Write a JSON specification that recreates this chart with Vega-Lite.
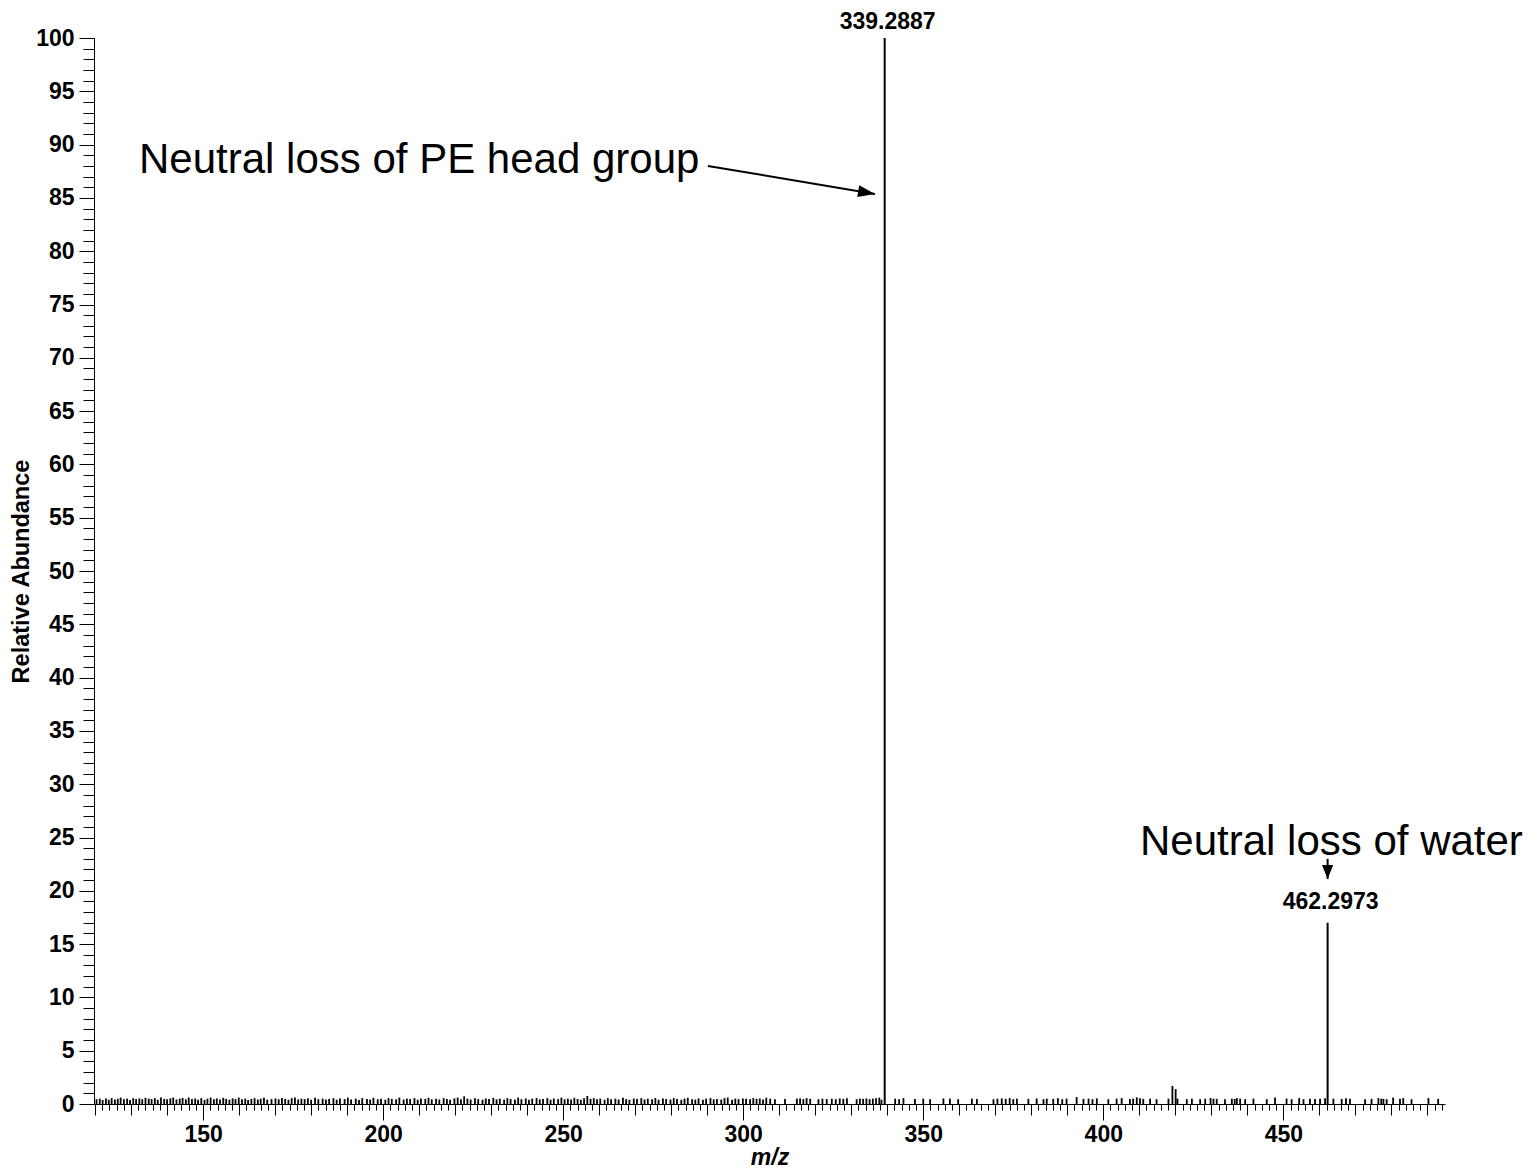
{
  "$schema": "https://vega.github.io/schema/vega-lite/v6.json",
  "width": 1351,
  "height": 1066,
  "autosize": {"type": "none"},
  "padding": {"left": 94, "top": 38, "right": 92, "bottom": 66},
  "background": "white",
  "config": {
    "view": {"stroke": null},
    "axis": {
      "grid": false,
      "labelFont": "Liberation Sans",
      "titleFont": "Liberation Sans",
      "labelFontWeight": "bold",
      "titleFontWeight": "bold",
      "labelColor": "black",
      "titleColor": "black",
      "domainColor": "black",
      "tickColor": "black",
      "labelFontSize": 23,
      "titleFontSize": 22
    }
  },
  "datasets": {
    "peaks": [
      {"mz":120.4,"ab":0.45},{"mz":121.3,"ab":0.5},{"mz":122.1,"ab":0.38},{"mz":123.0,"ab":0.52},{"mz":123.8,"ab":0.4},{"mz":124.6,"ab":0.55},{"mz":125.5,"ab":0.42},{"mz":126.3,"ab":0.48},{"mz":127.1,"ab":0.6},{"mz":128.0,"ab":0.45},
      {"mz":128.9,"ab":0.5},{"mz":129.7,"ab":0.38},{"mz":130.6,"ab":0.55},{"mz":131.4,"ab":0.47},{"mz":132.3,"ab":0.52},{"mz":133.1,"ab":0.44},{"mz":134.0,"ab":0.58},{"mz":134.9,"ab":0.5},{"mz":135.7,"ab":0.46},{"mz":136.6,"ab":0.55},
      {"mz":137.4,"ab":0.4},{"mz":138.3,"ab":0.62},{"mz":139.2,"ab":0.48},{"mz":140.0,"ab":0.45},{"mz":140.9,"ab":0.53},{"mz":141.7,"ab":0.6},{"mz":142.6,"ab":0.42},{"mz":143.5,"ab":0.5},{"mz":144.3,"ab":0.56},{"mz":145.2,"ab":0.44},
      {"mz":146.0,"ab":0.61},{"mz":146.9,"ab":0.47},{"mz":147.8,"ab":0.52},{"mz":148.6,"ab":0.4},{"mz":149.5,"ab":0.55},{"mz":150.4,"ab":0.38},{"mz":151.2,"ab":0.5},{"mz":152.1,"ab":0.6},{"mz":153.0,"ab":0.45},{"mz":153.8,"ab":0.52},
      {"mz":154.7,"ab":0.42},{"mz":155.6,"ab":0.58},{"mz":156.4,"ab":0.48},{"mz":157.3,"ab":0.4},{"mz":158.2,"ab":0.53},{"mz":159.0,"ab":0.46},{"mz":159.9,"ab":0.6},{"mz":160.8,"ab":0.44},{"mz":161.7,"ab":0.5},{"mz":162.5,"ab":0.38},
      {"mz":163.4,"ab":0.47},{"mz":164.3,"ab":0.55},{"mz":165.2,"ab":0.42},{"mz":166.0,"ab":0.5},{"mz":166.9,"ab":0.58},{"mz":167.8,"ab":0.4},{"mz":169.0,"ab":0.46},{"mz":170.1,"ab":0.52},{"mz":171.0,"ab":0.44},{"mz":171.9,"ab":0.57},
      {"mz":172.8,"ab":0.48},{"mz":173.7,"ab":0.4},{"mz":174.6,"ab":0.55},{"mz":175.5,"ab":0.62},{"mz":176.4,"ab":0.43},{"mz":177.3,"ab":0.5},{"mz":178.2,"ab":0.46},{"mz":179.1,"ab":0.53},{"mz":180.0,"ab":0.4},{"mz":181.1,"ab":0.58},
      {"mz":182.0,"ab":0.45},{"mz":183.2,"ab":0.5},{"mz":184.1,"ab":0.42},{"mz":185.0,"ab":0.48},{"mz":186.2,"ab":0.55},{"mz":187.1,"ab":0.4},{"mz":188.0,"ab":0.52},{"mz":189.3,"ab":0.46},{"mz":190.2,"ab":0.6},{"mz":191.1,"ab":0.43},
      {"mz":192.4,"ab":0.5},{"mz":193.3,"ab":0.38},{"mz":194.2,"ab":0.55},{"mz":195.5,"ab":0.47},{"mz":196.4,"ab":0.42},{"mz":197.3,"ab":0.58},{"mz":198.5,"ab":0.45},{"mz":199.4,"ab":0.5},{"mz":200.6,"ab":0.4},{"mz":201.5,"ab":0.55},
      {"mz":202.4,"ab":0.48},{"mz":203.6,"ab":0.44},{"mz":204.5,"ab":0.6},{"mz":205.7,"ab":0.42},{"mz":206.6,"ab":0.5},{"mz":207.5,"ab":0.46},{"mz":208.7,"ab":0.55},{"mz":209.6,"ab":0.4},{"mz":210.5,"ab":0.52},{"mz":211.7,"ab":0.48},
      {"mz":212.6,"ab":0.58},{"mz":213.5,"ab":0.44},{"mz":214.7,"ab":0.5},{"mz":215.6,"ab":0.42},{"mz":216.8,"ab":0.55},{"mz":217.7,"ab":0.47},{"mz":218.6,"ab":0.4},{"mz":219.8,"ab":0.53},{"mz":220.7,"ab":0.6},{"mz":221.6,"ab":0.45},
      {"mz":222.5,"ab":0.72},{"mz":223.4,"ab":0.5},{"mz":224.3,"ab":0.42},{"mz":225.5,"ab":0.55},{"mz":226.4,"ab":0.46},{"mz":227.6,"ab":0.4},{"mz":228.5,"ab":0.52},{"mz":229.4,"ab":0.48},{"mz":230.6,"ab":0.58},{"mz":231.5,"ab":0.44},
      {"mz":232.4,"ab":0.5},{"mz":233.6,"ab":0.4},{"mz":234.5,"ab":0.55},{"mz":235.4,"ab":0.47},{"mz":236.6,"ab":0.42},{"mz":237.5,"ab":0.6},{"mz":238.4,"ab":0.45},{"mz":239.6,"ab":0.52},{"mz":240.5,"ab":0.4},{"mz":241.4,"ab":0.5},
      {"mz":242.6,"ab":0.56},{"mz":243.5,"ab":0.43},{"mz":244.4,"ab":0.48},{"mz":245.6,"ab":0.55},{"mz":246.5,"ab":0.4},{"mz":247.4,"ab":0.52},{"mz":248.6,"ab":0.46},{"mz":249.5,"ab":0.6},{"mz":250.4,"ab":0.44},{"mz":251.3,"ab":0.5},
      {"mz":252.2,"ab":0.42},{"mz":253.1,"ab":0.58},{"mz":254.0,"ab":0.47},{"mz":254.9,"ab":0.4},{"mz":255.8,"ab":0.53},{"mz":256.7,"ab":0.75},{"mz":257.6,"ab":0.48},{"mz":258.5,"ab":0.55},{"mz":259.4,"ab":0.45},{"mz":260.3,"ab":0.5},
      {"mz":261.5,"ab":0.4},{"mz":262.4,"ab":0.55},{"mz":263.3,"ab":0.44},{"mz":264.5,"ab":0.5},{"mz":265.4,"ab":0.42},{"mz":266.6,"ab":0.58},{"mz":267.5,"ab":0.46},{"mz":268.4,"ab":0.4},{"mz":269.6,"ab":0.52},{"mz":270.5,"ab":0.48},
      {"mz":271.7,"ab":0.55},{"mz":272.6,"ab":0.42},{"mz":273.5,"ab":0.5},{"mz":274.7,"ab":0.44},{"mz":275.6,"ab":0.56},{"mz":276.5,"ab":0.4},{"mz":277.7,"ab":0.52},{"mz":278.6,"ab":0.47},{"mz":279.8,"ab":0.42},{"mz":280.7,"ab":0.55},
      {"mz":281.6,"ab":0.48},{"mz":282.8,"ab":0.4},{"mz":283.7,"ab":0.5},{"mz":284.6,"ab":0.58},{"mz":285.8,"ab":0.45},{"mz":286.7,"ab":0.42},{"mz":287.6,"ab":0.52},{"mz":288.8,"ab":0.4},{"mz":289.7,"ab":0.5},{"mz":290.9,"ab":0.55},
      {"mz":291.8,"ab":0.44},{"mz":292.7,"ab":0.48},{"mz":293.9,"ab":0.42},{"mz":294.8,"ab":0.55},{"mz":295.7,"ab":0.6},{"mz":296.9,"ab":0.4},{"mz":297.8,"ab":0.5},{"mz":298.7,"ab":0.46},{"mz":299.9,"ab":0.52},
      {"mz":300.8,"ab":0.5},{"mz":301.9,"ab":0.45},{"mz":302.8,"ab":0.55},{"mz":303.7,"ab":0.48},{"mz":304.6,"ab":0.52},{"mz":305.5,"ab":0.42},{"mz":306.4,"ab":0.58},{"mz":307.5,"ab":0.5},{"mz":308.8,"ab":0.45},{"mz":311.6,"ab":0.48},
      {"mz":314.9,"ab":0.5},{"mz":315.8,"ab":0.52},{"mz":316.7,"ab":0.45},{"mz":317.6,"ab":0.55},{"mz":318.6,"ab":0.48},{"mz":320.9,"ab":0.45},{"mz":322.0,"ab":0.5},{"mz":323.2,"ab":0.46},{"mz":324.6,"ab":0.5},{"mz":325.7,"ab":0.45},
      {"mz":326.8,"ab":0.52},{"mz":327.8,"ab":0.48},{"mz":328.8,"ab":0.55},{"mz":331.5,"ab":0.45},{"mz":332.4,"ab":0.5},{"mz":333.3,"ab":0.48},{"mz":334.2,"ab":0.52},{"mz":335.1,"ab":0.45},{"mz":336.0,"ab":0.5},{"mz":336.9,"ab":0.55},
      {"mz":337.8,"ab":0.6},{"mz":338.4,"ab":0.4},
      {"mz":339.2887,"ab":100},
      {"mz":342.2,"ab":0.5},{"mz":343.3,"ab":0.45},{"mz":344.5,"ab":0.55},{"mz":347.7,"ab":0.48},{"mz":350.0,"ab":0.5},{"mz":351.9,"ab":0.45},{"mz":355.6,"ab":0.52},{"mz":357.4,"ab":0.5},{"mz":359.7,"ab":0.45},{"mz":363.5,"ab":0.5},
      {"mz":364.9,"ab":0.48},{"mz":369.5,"ab":0.45},{"mz":370.6,"ab":0.5},{"mz":371.8,"ab":0.52},{"mz":372.9,"ab":0.48},{"mz":374.0,"ab":0.55},{"mz":375.0,"ab":0.45},{"mz":376.0,"ab":0.5},{"mz":379.2,"ab":0.48},{"mz":381.5,"ab":0.52},
      {"mz":383.4,"ab":0.45},{"mz":384.3,"ab":0.5},{"mz":386.1,"ab":0.48},{"mz":387.4,"ab":0.55},{"mz":388.6,"ab":0.45},{"mz":389.8,"ab":0.5},{"mz":392.6,"ab":0.65},{"mz":394.5,"ab":0.48},{"mz":395.9,"ab":0.5},{"mz":397.0,"ab":0.45},
      {"mz":398.2,"ab":0.52},{"mz":401.4,"ab":0.45},{"mz":403.7,"ab":0.5},{"mz":405.1,"ab":0.55},{"mz":407.4,"ab":0.48},{"mz":408.3,"ab":0.5},{"mz":409.3,"ab":0.62},{"mz":410.2,"ab":0.55},{"mz":411.1,"ab":0.48},{"mz":413.0,"ab":0.5},
      {"mz":414.8,"ab":0.45},{"mz":418.1,"ab":0.5},{"mz":419.2,"ab":1.7},{"mz":420.1,"ab":1.4},{"mz":420.6,"ab":0.5},{"mz":423.2,"ab":0.45},{"mz":424.6,"ab":0.5},{"mz":426.9,"ab":0.45},{"mz":428.3,"ab":0.5},{"mz":429.8,"ab":0.55},
      {"mz":430.6,"ab":0.5},{"mz":431.5,"ab":0.48},{"mz":433.8,"ab":0.45},{"mz":435.7,"ab":0.5},{"mz":436.5,"ab":0.48},{"mz":437.1,"ab":0.55},{"mz":438.0,"ab":0.5},{"mz":439.4,"ab":0.45},{"mz":441.7,"ab":0.5},{"mz":445.4,"ab":0.45},
      {"mz":447.7,"ab":0.6},{"mz":450.9,"ab":0.5},{"mz":452.3,"ab":0.45},{"mz":454.4,"ab":0.55},{"mz":455.6,"ab":0.45},{"mz":457.4,"ab":0.5},{"mz":458.8,"ab":0.48},{"mz":460.2,"ab":0.5},{"mz":461.6,"ab":0.55},
      {"mz":462.2973,"ab":17.0},
      {"mz":463.9,"ab":0.5},{"mz":466.2,"ab":0.48},{"mz":467.4,"ab":0.55},{"mz":468.5,"ab":0.5},{"mz":472.7,"ab":0.45},{"mz":474.5,"ab":0.48},{"mz":476.4,"ab":0.55},{"mz":477.2,"ab":0.5},{"mz":477.8,"ab":0.48},{"mz":478.7,"ab":0.45},
      {"mz":480.5,"ab":0.6},{"mz":482.4,"ab":0.5},{"mz":483.3,"ab":0.55},{"mz":485.6,"ab":0.45},{"mz":490.3,"ab":0.55},{"mz":493.0,"ab":0.48}
    ],
    "peakLabels": [
      {"mz": 339.2887, "ab": 100.8, "label": "339.2887"},
      {"mz": 462.2973, "ab": 18.3, "label": "462.2973"}
    ],
    "notes": [
      {"mz": 132.2, "ab": 87.3, "label": "Neutral loss of PE head group"},
      {"mz": 410.2, "ab": 23.36, "label": "Neutral loss of water"}
    ],
    "arrowPE": [{"mz": 290.2, "ab": 88.0, "mzTip": 336.6, "abTip": 85.37}],
    "arrowWater": [{"mz": 462.3, "ab": 23.0, "mzTip": 462.3, "abTip": 21.1}]
  },
  "resolve": {"axis": {"x": "independent", "y": "independent"}},
  "layer": [
    {
      "data": {"name": "peaks"},
      "mark": {"type": "rule", "opacity": 0},
      "encoding": {
        "x": {"field": "mz", "type": "quantitative", "scale": {"domain": [119.7, 494.9], "nice": false, "zero": false},
              "axis": {"orient": "bottom", "tickCount": 190, "tickSize": 6, "labels": false, "domain": false, "title": null}},
        "y": {"field": "ab", "type": "quantitative", "scale": {"domain": [0, 100], "nice": false},
              "axis": {"orient": "left", "tickCount": 100, "tickSize": 11, "labels": false, "domain": false, "title": null}}
      }
    },
    {
      "data": {"name": "peaks"},
      "mark": {"type": "rule", "opacity": 0},
      "encoding": {
        "x": {"field": "mz", "type": "quantitative",
              "axis": {"orient": "bottom", "tickCount": 38, "tickSize": 11, "labels": false, "domain": false, "title": null}},
        "y": {"field": "ab", "type": "quantitative", "axis": null}
      }
    },
    {
      "data": {"name": "peaks"},
      "mark": {"type": "rule", "color": "black"},
      "encoding": {
        "x": {"field": "mz", "type": "quantitative",
              "axis": {"orient": "bottom", "tickCount": 8, "tickSize": 16, "labelPadding": 3, "title": "m/z", "titleFontStyle": "italic", "titleFontSize": 23, "titleBaseline": "alphabetic", "titleY": 60}},
        "y": {"field": "ab", "type": "quantitative",
              "axis": {"orient": "left", "tickCount": 20, "tickSize": 15, "labelPadding": 5, "title": "Relative Abundance", "titleX": -66, "titleY": 533, "titleAngle": -90, "titleAlign": "center", "titleBaseline": "alphabetic", "titleFontSize": 23.5}},
        "y2": {"datum": 0},
        "strokeWidth": {"condition": {"test": "datum.ab > 10", "value": 2}, "value": 1.8}
      }
    },
    {
      "data": {"name": "peakLabels"},
      "mark": {"type": "text", "font": "Liberation Sans", "fontWeight": "bold", "fontSize": 23, "align": "center", "baseline": "alphabetic", "dx": 3, "color": "black"},
      "encoding": {
        "x": {"field": "mz", "type": "quantitative", "axis": null},
        "y": {"field": "ab", "type": "quantitative", "axis": null},
        "text": {"field": "label"}
      }
    },
    {
      "data": {"name": "notes"},
      "mark": {"type": "text", "font": "Liberation Sans", "fontSize": 42, "align": "left", "baseline": "alphabetic", "color": "black"},
      "encoding": {
        "x": {"field": "mz", "type": "quantitative", "axis": null},
        "y": {"field": "ab", "type": "quantitative", "axis": null},
        "text": {"field": "label"}
      }
    },
    {
      "data": {"name": "arrowPE"},
      "mark": {"type": "rule", "color": "black", "strokeWidth": 2},
      "encoding": {
        "x": {"field": "mz", "type": "quantitative", "axis": null},
        "y": {"field": "ab", "type": "quantitative", "axis": null},
        "x2": {"field": "mzTip"},
        "y2": {"field": "abTip"}
      }
    },
    {
      "data": {"name": "arrowPE"},
      "mark": {"type": "point", "shape": "M0,0 L-2,-0.7 L-2,0.7 Z", "filled": true, "size": 289, "angle": 9.5, "color": "black", "opacity": 1},
      "encoding": {
        "x": {"field": "mzTip", "type": "quantitative", "axis": null},
        "y": {"field": "abTip", "type": "quantitative", "axis": null}
      }
    },
    {
      "data": {"name": "arrowWater"},
      "mark": {"type": "rule", "color": "black", "strokeWidth": 2},
      "encoding": {
        "x": {"field": "mz", "type": "quantitative", "axis": null},
        "y": {"field": "ab", "type": "quantitative", "axis": null},
        "x2": {"field": "mzTip"},
        "y2": {"field": "abTip"}
      }
    },
    {
      "data": {"name": "arrowWater"},
      "mark": {"type": "point", "shape": "M0,0 L-2,-0.8 L-2,0.8 Z", "filled": true, "size": 196, "angle": 90, "color": "black", "opacity": 1},
      "encoding": {
        "x": {"field": "mzTip", "type": "quantitative", "axis": null},
        "y": {"field": "abTip", "type": "quantitative", "axis": null}
      }
    }
  ]
}
